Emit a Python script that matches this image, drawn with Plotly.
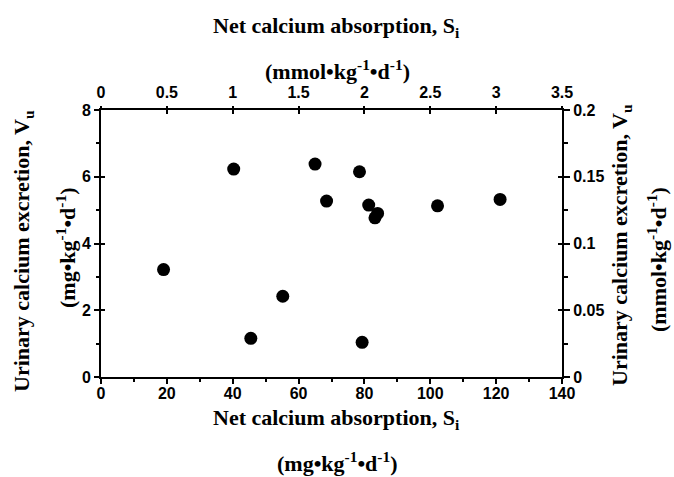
import plotly.graph_objects as go

# Data (mg·kg-1·d-1)
absorption_mg = [19.0, 40.3, 45.5, 55.2, 65.0, 68.5, 78.5, 79.3, 81.3, 84.0, 83.2, 102.2, 121.2]
excretion_mg = [3.22, 6.23, 1.16, 2.42, 6.38, 5.27, 6.15, 1.04, 5.15, 4.90, 4.77, 5.13, 5.32]
CA_MG_PER_MMOL = 40.08
absorption_mmol = [v / CA_MG_PER_MMOL for v in absorption_mg]
excretion_mmol = [v / CA_MG_PER_MMOL for v in excretion_mg]

x_ticks_mg = [0, 20, 40, 60, 80, 100, 120, 140]
y_ticks_mg = [0, 2, 4, 6, 8]
x_ticks_mmol = [0, 0.5, 1, 1.5, 2, 2.5, 3, 3.5]
y_ticks_mmol = [0, 0.05, 0.1, 0.15, 0.2]

W, H = 674, 477
L, R, T, B = 101, 112, 110, 100
PW, PH = W - L - R, H - T - B

tick_font = dict(family="Liberation Sans, Arial, sans-serif", size=16, color="black", weight="bold")
title_font = dict(family="Liberation Serif, Times New Roman, serif", size=22, color="black", weight="bold")

fig = go.Figure()
fig.add_trace(go.Scatter(x=absorption_mg, y=excretion_mg, mode="markers",
                         marker=dict(size=13, color="black"), xaxis="x", yaxis="y",
                         showlegend=False))
# invisible helper traces so that the secondary (mmol) and tick-only axes are drawn
for xa, ya, xs, ys in [("x2", "y2", absorption_mmol, excretion_mmol),
                       ("x3", "y3", absorption_mg, excretion_mg),
                       ("x4", "y4", absorption_mmol, excretion_mmol),
                       ("x3", "y5", absorption_mg, excretion_mg)]:
    fig.add_trace(go.Scatter(x=xs, y=ys, mode="markers", marker=dict(size=1, opacity=0),
                             xaxis=xa, yaxis=ya, showlegend=False, hoverinfo="skip"))

common = dict(showgrid=False, zeroline=False, tickcolor="black", tickwidth=2,
              tickfont=tick_font, fixedrange=True)
line = dict(linecolor="black", linewidth=2, showline=True)
tickonly = dict(showticklabels=False, showline=False)
minor_style = dict(ticks="outside", ticklen=4, tickwidth=1.5, tickcolor="black")

fig.update_layout(
    width=W, height=H,
    margin=dict(l=L, r=R, t=T, b=B, pad=0),
    paper_bgcolor="white", plot_bgcolor="white",
    # labelled axes
    xaxis=dict(range=[0, 140], tickvals=x_ticks_mg, ticks="", ticklabelstandoff=1,
               **line, **common),
    yaxis=dict(range=[0, 8], tickvals=y_ticks_mg, ticks="", ticklabelstandoff=5,
               **line, **common),
    xaxis2=dict(range=[0, 3.5], tickvals=x_ticks_mmol, ticktext=[f"{v:g}" for v in x_ticks_mmol],
                overlaying="x", side="top", anchor="y", ticks="inside", ticklen=4,
                ticklabelstandoff=4, **line, **common),
    yaxis2=dict(range=[0, 0.2], tickvals=y_ticks_mmol, ticktext=[f"{v:g}" for v in y_ticks_mmol],
                overlaying="y", side="right", anchor="x", ticks="outside", ticklen=6,
                minor=dict(dtick=0.025, tick0=0, **minor_style), **line, **common),
    # tick-only axes
    xaxis3=dict(range=[0, 140], tickvals=x_ticks_mg, overlaying="x", side="bottom", anchor="y3",
                ticks="outside", ticklen=6, minor=dict(dtick=10, tick0=0, **minor_style),
                **tickonly, **common),
    yaxis3=dict(range=[0, 8], tickvals=y_ticks_mg, overlaying="y", side="left", anchor="x3",
                ticks="outside", ticklen=6, minor=dict(dtick=1, tick0=0, **minor_style),
                **tickonly, **common),
    yaxis5=dict(range=[0, 8], tickvals=y_ticks_mg, overlaying="y", side="left", anchor="x3",
                ticks="inside", ticklen=4, **tickonly, **common),
    xaxis4=dict(range=[0, 3.5], tickvals=x_ticks_mmol, overlaying="x", side="top", anchor="y4",
                ticks="outside", ticklen=3, **tickonly, **common),
    yaxis4=dict(range=[0, 0.2], tickvals=y_ticks_mmol, overlaying="y", side="right", anchor="x4",
                ticks="inside", ticklen=4, **tickonly, **common),
)

def px_to_paper(px, py):
    return (px - L) / PW, (H - B - py) / PH

def add_title(text, px, py, angle=0):
    xp, yp = px_to_paper(px, py)
    fig.add_annotation(text=text, x=xp, y=yp, xref="paper", yref="paper",
                       xanchor="center", yanchor="middle", showarrow=False,
                       textangle=angle, font=title_font)

add_title("Net calcium absorption, S<sub>i</sub>", 336, 419)
add_title("(mg•kg<sup>-1</sup>•d<sup>-1</sup>)", 337, 462)
add_title("Net calcium absorption, S<sub>i</sub>", 336, 27)
add_title("(mmol•kg<sup>-1</sup>•d<sup>-1</sup>)", 337, 70)
add_title("Urinary calcium excretion, V<sub>u</sub>", 23, 251, -90)
add_title("(mg•kg<sup>-1</sup>•d<sup>-1</sup>)", 66, 248, -90)
add_title("Urinary calcium excretion, V<sub>u</sub>", 621, 245, -90)
add_title("(mmol•kg<sup>-1</sup>•d<sup>-1</sup>)", 657, 260, -90)

fig.write_html("out.html", config={"displayModeBar": False},
               post_script="document.body.style.margin='0';document.body.style.overflow='hidden';")
